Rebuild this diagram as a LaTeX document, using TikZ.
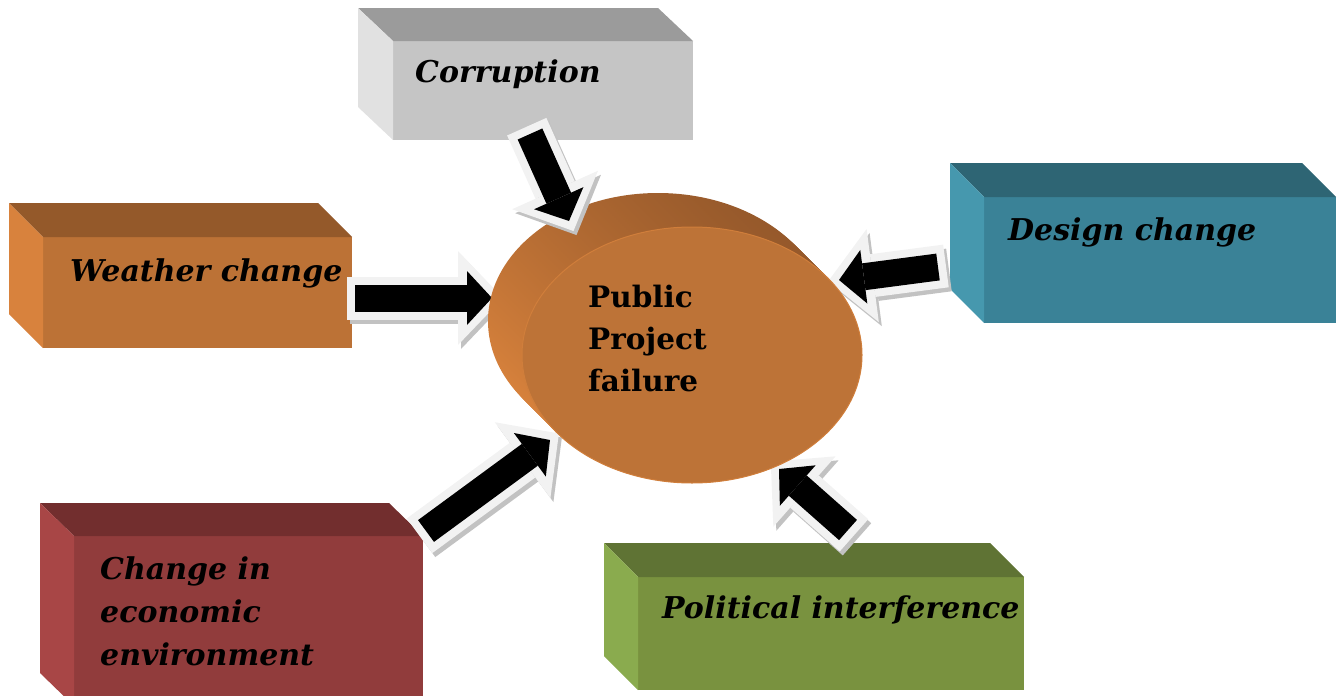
\documentclass[tikz,border=0pt]{standalone}
\usepackage{fontspec}
\setmainfont{DejaVu Serif}
\usetikzlibrary{arrows.meta,shapes.geometric}

\definecolor{greyTop}{HTML}{9B9B9B}
\definecolor{greySide}{HTML}{E1E1E1}
\definecolor{greyFront}{HTML}{C5C5C5}
\definecolor{brownTop}{HTML}{94592A}
\definecolor{brownSide}{HTML}{D8823D}
\definecolor{brownFront}{HTML}{BC7236}
\definecolor{tealTop}{HTML}{2E6574}
\definecolor{tealSide}{HTML}{4698AE}
\definecolor{tealFront}{HTML}{3A8297}
\definecolor{redTop}{HTML}{722E2E}
\definecolor{redSide}{HTML}{A84646}
\definecolor{redFront}{HTML}{913C3C}
\definecolor{greenTop}{HTML}{5F7334}
\definecolor{greenSide}{HTML}{8AAB4E}
\definecolor{greenFront}{HTML}{79923F}
\definecolor{discFront}{HTML}{BD7337}
\definecolor{discDark}{HTML}{96592B}
\definecolor{discLight}{HTML}{D8823C}
\definecolor{rimWhite}{HTML}{F2F2F2}
\definecolor{rimGrey}{HTML}{C2C2C2}

\tikzset{
  face/.style={rectangle, inner sep=0pt, outer sep=0pt, anchor=north west},
  lbl/.style={font=\fontsize{30}{43}\selectfont\bfseries\itshape, align=left, inner sep=0pt, anchor=base west},
  core/.style={line width=27pt, -{Triangle[length=25pt, width=54pt, line width=0pt]}},
  rim/.style={line width=43pt, draw=rimWhite, shorten <=-8pt, shorten >=-11pt,
    -{Triangle[length=45pt, width=94pt, line width=0pt]}},
  rimshadow/.style={rim, draw=rimGrey, transform canvas={shift={(3pt,-4pt)}}},
  discside/.style={top color=discDark, bottom color=discLight, shading angle=-35},
}

\begin{document}
\begin{tikzpicture}[x=1pt,y=-1pt]
\clip (0,0) rectangle (1344,696);

% blocks: front face as node, top and left faces from its corners
\node[face, fill=greyFront, minimum width=300pt, minimum height=99pt] (corr) at (393,41) {};
\fill[greyTop] (corr.north west) -- ++(-35,-33) -- ++(300,0) -- (corr.north east) -- cycle;
\fill[greySide] (corr.north west) -- ++(-35,-33) -- ++(0,99) -- (corr.south west) -- cycle;
\node[lbl] (corrTxt) at ([shift={(22,41)}]corr.north west) {Corruption};

\node[face, fill=brownFront, minimum width=309pt, minimum height=111pt] (weather) at (43,237) {};
\fill[brownTop] (weather.north west) -- ++(-34,-34) -- ++(309,0) -- (weather.north east) -- cycle;
\fill[brownSide] (weather.north west) -- ++(-34,-34) -- ++(0,111) -- (weather.south west) -- cycle;
\node[lbl] (weatherTxt) at ([shift={(27,44)}]weather.north west) {Weather change};

\node[face, fill=tealFront, minimum width=352pt, minimum height=126pt] (design) at (984,197) {};
\fill[tealTop] (design.north west) -- ++(-34,-34) -- ++(352,0) -- (design.north east) -- cycle;
\fill[tealSide] (design.north west) -- ++(-34,-34) -- ++(0,126) -- (design.south west) -- cycle;
\node[lbl] (designTxt) at ([shift={(24,43)}]design.north west) {Design change};

\node[face, fill=redFront, minimum width=349pt, minimum height=170pt] (econ) at (74,536) {};
\fill[redTop] (econ.north west) -- ++(-34,-33) -- ++(349,0) -- (econ.north east) -- cycle;
\fill[redSide] (econ.north west) -- ++(-34,-33) -- ++(0,170) -- (econ.south west) -- cycle;
% base of a multi-line node sits on its last line
\node[lbl] (econTxt) at ([shift={(26,129)}]econ.north west) {Change in\\economic\\environment};

\node[face, fill=greenFront, minimum width=386pt, minimum height=113pt] (polit) at (638,577) {};
\fill[greenTop] (polit.north west) -- ++(-34,-34) -- ++(386,0) -- (polit.north east) -- cycle;
\fill[greenSide] (polit.north west) -- ++(-34,-34) -- ++(0,113) -- (polit.south west) -- cycle;
\node[lbl] (politTxt) at ([shift={(24,41)}]polit.north west) {Political interference};

% arrow ends
\coordinate (weaA) at (355,298);  \coordinate (weaB) at (492,298);
\coordinate (corA) at (530,134);  \coordinate (corB) at (569,221);
\coordinate (desA) at (938,267);  \coordinate (desB) at (839,280);
\coordinate (ecoA) at (426,531);  \coordinate (ecoB) at (550,440);
\coordinate (polA) at (848,530);  \coordinate (polB) at (779,469);

\foreach \a/\b in {weaA/weaB, desA/desB, ecoA/ecoB, polA/polB} {
  \draw[rimshadow] (\a) -- (\b);
  \draw[rim] (\a) -- (\b);
  \draw[core] (\a) -- (\b);
}

% the disc
\coordinate (discC) at (692,355);
\foreach \k in {34,32,...,2}
  \shade[discside] ([shift={(-\k,-\k)}]discC) ellipse [x radius=170, y radius=128];
\node[ellipse, fill=discFront, draw=discLight!70!discFront, line width=1pt,
  minimum width=340pt, minimum height=256pt, inner sep=0pt] (disc) at (discC) {};
\node[lbl, font=\fontsize{29.5}{42}\selectfont\bfseries] (discTxt) at (588,391) {Public\\Project\\failure};

\draw[rimshadow] (corA) -- (corB);
\draw[rim] (corA) -- (corB);
\draw[core] (corA) -- (corB);
\end{tikzpicture}
\end{document}
